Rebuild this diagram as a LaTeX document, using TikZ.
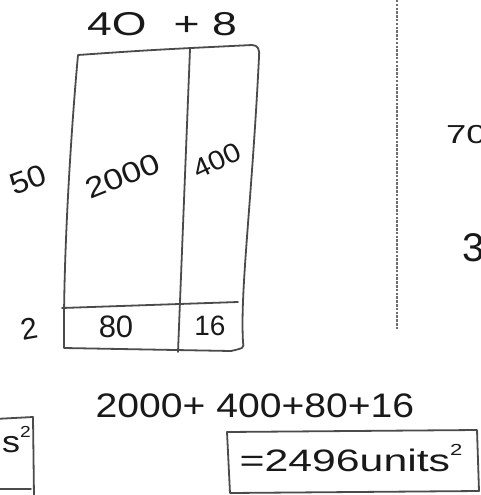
\documentclass[tikz,border=0pt]{standalone}
\usepackage{fontspec}
\setmainfont{Liberation Sans}
\definecolor{pencol}{RGB}{75,75,75}
\definecolor{inkcol}{RGB}{25,25,25}
\definecolor{dashcol}{RGB}{110,110,110}
\newcommand{\hsz}[1]{\fontsize{#1}{#1}\selectfont}
\newcommand{\sqmark}{\raisebox{0.5em}{\hsz{16}2}}
\begin{document}
\begin{tikzpicture}[x=1pt,y=-1pt,
  pen/.style={draw=pencol, line width=1.8pt, line cap=round, line join=round},
  hw/.style={text=inkcol, inner sep=0pt},
  dashline/.style={draw=dashcol, line width=1.3pt, dash pattern=on 2.5pt off 1.3pt}]
\useasboundingbox (0,0) rectangle (481,495);
\fill[white] (0,0) rectangle (481,495);
\clip (0,0) rectangle (481,495);
% corners of the area model
\coordinate (TL) at (78,55);
\coordinate (TRa) at (252,45);
\coordinate (TRb) at (259,57);
\coordinate (BRa) at (243,342);
\coordinate (BRb) at (231,351);
\coordinate (BL) at (64,348);
\coordinate (VT) at (190,49);
\coordinate (VB) at (178,352);
\coordinate (HL) at (62,308);
\coordinate (HR) at (238,302);
% outline
\draw[pen] (TL) .. controls (150,50) .. (TRa)
  .. controls (258,45) and (260,50) .. (TRb)
  .. controls (252,200) and (240,290) .. (BRa)
  .. controls (244,348) .. (BRb)
  -- (BL)
  .. controls (63,250) and (72,120) .. (TL);
\draw[pen] (VT) .. controls (184,200) .. (VB);
\draw[pen] (HL) -- (HR);
% labels
\node[hw, font=\hsz{33}] (top) at (162,24) {\scalebox{1.35}[1]{4O\,\, + 8}};
\node[hw, font=\hsz{30}, rotate=20] (fifty) at (28,180) {\scalebox{1.1}[1]{50}};
\node[hw, font=\hsz{29}, rotate=22] (a1) at (123,176) {\scalebox{1.2}[1]{2000}};
\node[hw, font=\hsz{27}, rotate=25] (a2) at (217,161) {\scalebox{1.1}[1]{400}};
\node[hw, font=\hsz{30}, rotate=10] (two) at (29,329) {2};
\node[hw, font=\hsz{31}] (a3) at (116,327) {80};
\node[hw, font=\hsz{28}] (a4) at (210,326) {16};
% dashed divider
\coordinate (DT) at (397,0);
\coordinate (DB) at (397,330);
\draw[dashline] (DT) -- (DB);
% partial labels at the right
\node[hw, font=\hsz{26}, anchor=west] (seventy) at (446,135) {\scalebox{1.4}[1]{70}};
\node[hw, font=\hsz{40}, anchor=west] (three) at (462,248) {3};
% sum
\node[hw, font=\hsz{34}] (sum) at (255,406) {\scalebox{1.15}[1]{2000+ 400+80+16}};
\node[hw, font=\hsz{31}] (ans) at (351,458) {\scalebox{1.38}[1]{=2496units\sqmark}};
\draw[pen] (227,432) -- (477,430) -- (479,491) -- (230,493) -- cycle;
% partial box at the left
\node[hw, font=\hsz{30}, anchor=east] (lefts) at (31,440) {\scalebox{1.2}[1]{s\sqmark}};
\draw[pen] (-5,419) -- (33,417) -- (34,497);
\draw[pen] (-5,489) -- (31,489);
\end{tikzpicture}
\end{document}
